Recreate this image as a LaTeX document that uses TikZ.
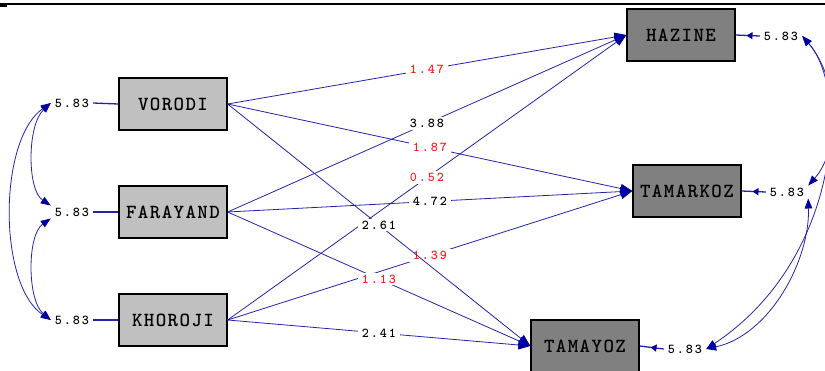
\documentclass[tikz,border=0pt]{standalone}
\usepackage{fontspec}
\newfontfamily\boxfont{lmmonolt10-bold}[Extension=.otf,LetterSpace=7]
\newfontfamily\numfont{lmmonolt10-bold}[Extension=.otf,LetterSpace=14]
\usetikzlibrary{arrows.meta,decorations.markings}
\definecolor{pathblue}{RGB}{35,35,170}
\definecolor{headblue}{RGB}{0,0,160}
\definecolor{exgray}{RGB}{192,192,192}
\definecolor{engray}{RGB}{128,128,128}
\definecolor{estred}{RGB}{255,30,30}

\begin{document}
\begin{tikzpicture}[x=1pt,y=-1pt,
  ex/.style={rectangle,draw=black,line width=1.3pt,fill=exgray,minimum width=108pt,minimum height=52pt,inner sep=0pt,
    font=\boxfont\fontsize{20}{20}\selectfont},
  en/.style={ex,fill=engray},
  num/.style={fill=white,text=black,inner xsep=4pt,inner ysep=2pt,font=\numfont\fontsize{13.5}{13}\selectfont},
  ar/.style={pathblue,line width=0.8pt,-{Triangle[length=12pt,width=9pt,color=headblue]}},
  cv/.style={pathblue,line width=0.8pt,{Triangle[length=10pt,width=7.5pt,color=headblue]}-{Triangle[length=10pt,width=7.5pt,color=headblue]}},
  el/.style={pathblue,line width=1.3pt},
  er/.style={el,postaction={decorate},decoration={markings,mark=at position 0.55 with {\arrow{Triangle[length=6pt,width=7pt,color=headblue]}}}}]
  \useasboundingbox (0,0) rectangle (825,370);
  \draw[line width=1.4pt](0,4)--(825,4);\fill(0,3) rectangle (7,6.5);
  % observed variables
  \node[ex](v) at (173,104){VORODI};
  \node[ex](f) at (173,212){FARAYAND};
  \node[ex](k) at (173,320){KHOROJI};
  \node[en](h) at (681,35){HAZINE};
  \node[en](t) at (687,191){TAMARKOZ};
  \node[en](y) at (585,346){TAMAYOZ};
  % error variances
  \node[num,fill=none](e1) at (72,103){5.83};
  \node[num,fill=none](e2) at (72,212){5.83};
  \node[num,fill=none](e3) at (72,320){5.83};
  \node[num,fill=none](e4) at (781,36){5.83};
  \node[num,fill=none](e5) at (787,192){5.83};
  \node[num,fill=none](e6) at (685,349){5.83};
  \draw[el](e1.east)--(v.west);\draw[el](e2.east)--(f.west);\draw[el](e3.east)--(k.west);
  \draw[er](e4.west)--(h.east);\draw[er](e5.west)--(t.east);\draw[er](e6.west)--(y.east);
  % paths
  \draw[ar](k.east)--node[num,text=estred]{1.39}(t.west);
  \draw[ar](k.east)--node[num,text=estred]{0.52}(h.west);
  \draw[ar](k.east)--node[num]{2.41}(y.west);
  \draw[ar](f.east)--node[num]{3.88}(h.west);
  \draw[ar](f.east)--node[num]{4.72}(t.west);
  \draw[ar](f.east)--node[num,text=estred]{1.13}(y.west);
  \draw[ar](v.east)--node[num,text=estred]{1.47}(h.west);
  \draw[ar](v.east)--node[num,text=estred]{1.87}(t.west);
  \draw[ar](v.east)--node[num]{2.61}(y.west);
  % covariances
  \draw[cv](e1.west) .. controls (27,125) and (27,190) .. (e2.north west);
  \draw[cv](e2.south west) .. controls (27,235) and (27,300) .. (e3.west);
  \draw[cv](e1.west) .. controls (-2,140) and (-2,285) .. (e3.west);
  \draw[cv](e4.east) .. controls (840,80) and (840,150) .. (e5.north east);
  \draw[cv](e5.south east) .. controls (810,260) and (770,335) .. (e6.east);
  \draw[cv](e4.east) .. controls (850,90) and (840,260) .. (e6.east);
\end{tikzpicture}
\end{document}
